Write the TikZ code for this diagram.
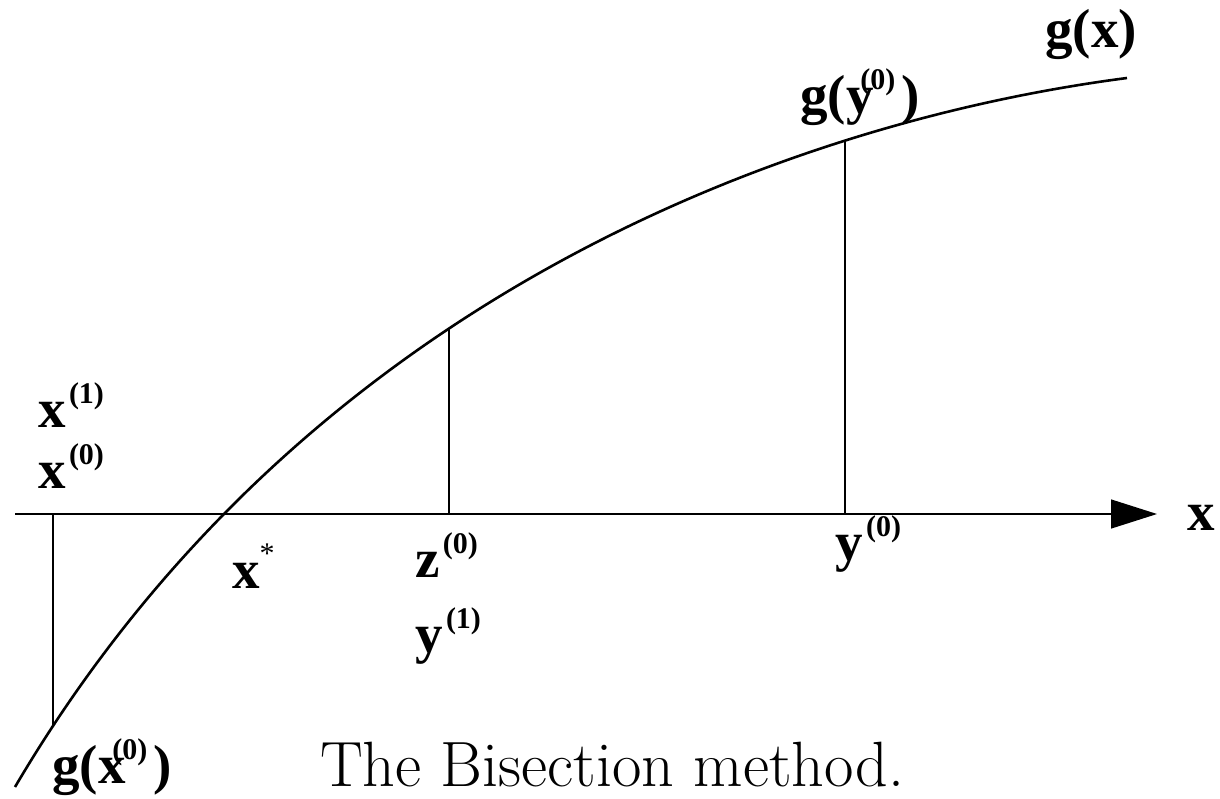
\documentclass[tikz,border=0pt]{standalone}
\usepackage{fontspec}
\newfontfamily\tim{Liberation Serif}
\usetikzlibrary{arrows.meta}
\newcommand{\lsup}[1]{\raisebox{0.42em}{\fontsize{30}{30}\selectfont #1}}
\newcommand{\gsup}[1]{\kern0.06em\lsup{#1}}
\begin{document}
\begin{tikzpicture}[x=1pt,y=-1pt,
  lab/.style={anchor=base west,inner sep=0pt,font=\tim\bfseries\fontsize{55}{60}\selectfont},
  thinline/.style={line width=1.3pt},
  curve/.style={line width=2.6pt}]
\useasboundingbox (0,0) rectangle (1220,798);
% axis
\coordinate (a0) at (15,514);
\coordinate (a1) at (1157,514);
\draw[thinline,-{Triangle[length=46pt,width=29pt]}] (a0) -- (a1);
% curve g(x)
\coordinate (c0) at (15,787);
\coordinate (k1) at (305,294);
\coordinate (k2) at (797,120.9);
\coordinate (c1) at (1127,78);
\draw[curve] (c0) .. controls (k1) and (k2) .. (c1);
% points on the curve
\coordinate (p1) at (53,725);
\coordinate (p2) at (449,329);
\coordinate (p3) at (845,140.5);
% verticals
\coordinate (b1) at (53,514);
\coordinate (b2) at (449,514);
\coordinate (b3) at (845,514);
\draw[thinline] (b1) -- (p1);
\draw[thinline] (b2) -- (p2);
\draw[thinline] (b3) -- (p3);
% labels
\node[lab] (gx) at (1045,47) {g(x)};
\node[lab] (gy) at (800,113) {g(y\kern-0.24em\lsup{(0)}\kern0.12em)};
\node[lab] (x1) at (38,427) {x\gsup{(1)}};
\node[lab] (x0) at (38,488) {x\gsup{(0)}};
\node[lab] (xax) at (1187,530) {x};
\node[lab] (xst) at (232,588) {x\raisebox{0.45em}{\fontsize{30}{30}\selectfont\mdseries *}};
\node[lab] (z0) at (415,577) {z\gsup{(0)}};
\node[lab] (y0) at (835,560) {y\gsup{(0)}};
\node[lab] (y1) at (415,652) {y\gsup{(1)}};
\node[lab] (gx0) at (52,783) {g(x\kern-0.24em\lsup{(0)}\kern0.12em)};
\node[anchor=base west,inner sep=0pt,font=\fontsize{64}{72}\selectfont] (cap) at (320,786) {The Bisection method.};
\end{tikzpicture}
\end{document}
